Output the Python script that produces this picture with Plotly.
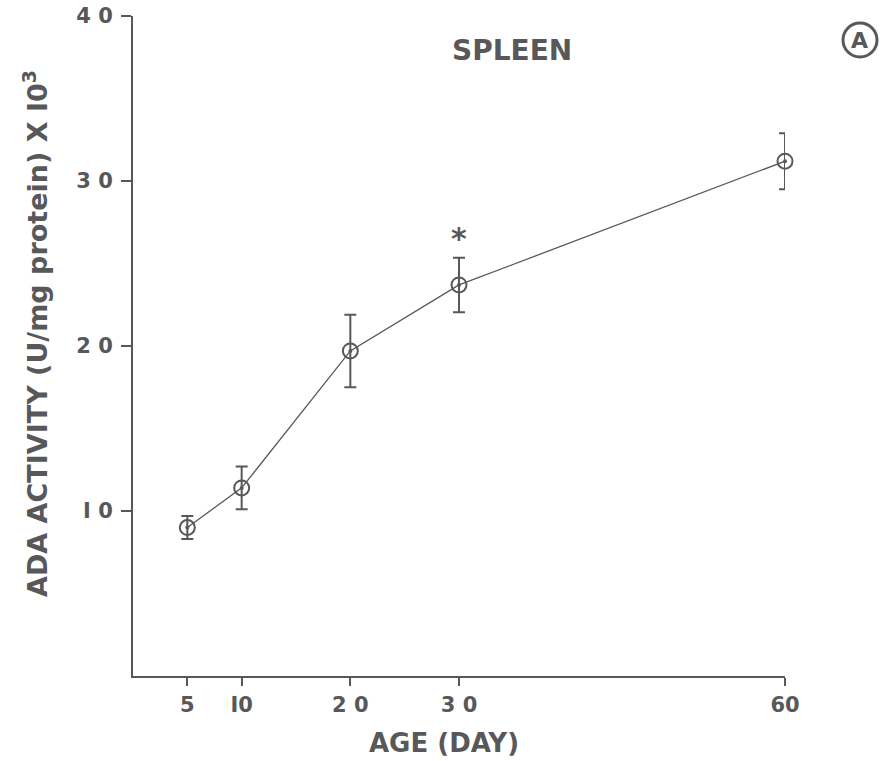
import plotly.graph_objects as go

age = [5, 10, 20, 30, 60]
activity = [9.0, 11.4, 19.7, 23.7, 31.2]
err = [0.7, 1.3, 2.2, 1.65, 1.7]
x_ticks = [5, 10, 20, 30, 60]
x_ticktext = ["5", "I0", "2 0", "3 0", "60"]
y_ticks = [10, 20, 30, 40]
y_ticktext = ["I 0", "2 0", "3 0", "4 0"]

C = "#58585a"
FONT = "DejaVu Sans"

L, R, T, B = 133, 104, 16, 85
W, H = 889, 761
PW, PH = W - L - R, H - T - B


def px(x):
    return (x - L) / PW


def py(y):
    return (H - B - y) / PH


fig = go.Figure()
fig.add_trace(go.Scatter(
    x=age, y=activity, mode="lines+markers",
    line=dict(color=C, width=1.3),
    marker=dict(symbol="circle-open", size=15, color=C, line=dict(width=2, color=C)),
    error_y=dict(type="data", array=err, visible=True, color=C, thickness=2, width=6),
    showlegend=False, cliponaxis=False,
))
fig.add_trace(go.Scatter(
    x=age, y=activity, mode="markers",
    marker=dict(symbol="circle", size=4, color=C),
    showlegend=False, cliponaxis=False,
))

fig.add_annotation(x=30, y=26.5, text="<b>*</b>", showarrow=False,
                   font=dict(size=30, color=C, family=FONT))
fig.add_annotation(x=px(512), xref="paper", y=py(51), yref="paper",
                   text="<b>SPLEEN</b>", showarrow=False,
                   xanchor="center", yanchor="middle",
                   font=dict(size=28, color=C, family=FONT))
fig.add_annotation(x=px(860), xref="paper", y=py(40), yref="paper",
                   text="<b>A</b>", showarrow=False, xanchor="center", yanchor="middle",
                   font=dict(size=22, color=C, family=FONT))
fig.add_shape(type="circle", xref="paper", yref="paper",
              x0=px(843), x1=px(877), y0=py(57), y1=py(23),
              line=dict(color=C, width=3))
# axis titles
fig.add_annotation(x=px(444), xref="paper", y=py(760), yref="paper",
                   text="<b>AGE (DAY)</b>", showarrow=False,
                   xanchor="center", yanchor="bottom",
                   font=dict(size=26, color=C, family=FONT))
fig.add_annotation(x=px(35), xref="paper", y=py(334), yref="paper",
                   text="<b>ADA ACTIVITY (U/mg protein) X I0<sup>3</sup></b>", showarrow=False,
                   textangle=-90, xanchor="center", yanchor="middle",
                   font=dict(size=27, color=C, family=FONT))

fig.update_layout(
    width=W, height=H,
    margin=dict(l=L, r=R, t=T, b=B),
    paper_bgcolor="white", plot_bgcolor="white",
    font=dict(family=FONT, color=C, size=20),
)
fig.update_xaxes(
    range=[0, 60], tickvals=x_ticks, ticktext=["<b>%s</b>" % t for t in x_ticktext],
    ticks="outside", ticklen=8, tickwidth=2, tickcolor=C, ticklabelstandoff=1,
    showline=True, linecolor=C, linewidth=2, showgrid=False, zeroline=False,
    automargin=False,
    tickfont=dict(size=21, color=C, family=FONT),
)
fig.update_yaxes(
    range=[0, 40], tickvals=y_ticks, ticktext=["<b>%s</b>" % t for t in y_ticktext],
    ticks="outside", ticklen=10, tickwidth=2, tickcolor=C, ticklabelstandoff=4,
    showline=True, linecolor=C, linewidth=2, showgrid=False, zeroline=False,
    automargin=False,
    tickfont=dict(size=21, color=C, family=FONT),
)

fig.write_html("out.html")
